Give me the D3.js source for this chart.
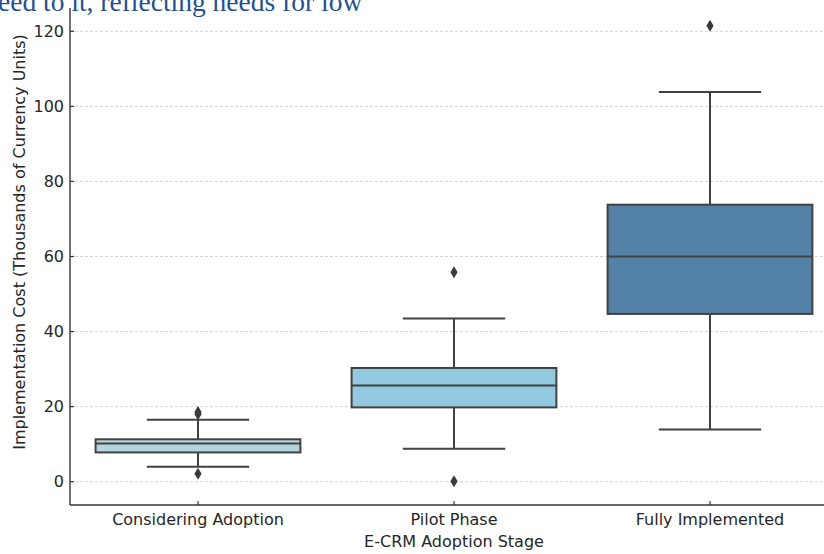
<!DOCTYPE html>
<html>
<head>
<meta charset="utf-8">
<script src="https://cdn.jsdelivr.net/npm/d3@7"></script>
<style>
  html, body { margin: 0; padding: 0; background: #fff; }
  svg { display: block; }
</style>
</head>
<body>
<svg id="chart" width="824" height="554"></svg>
<script>
// ---- data ----
const categories = ["Considering Adoption", "Pilot Phase", "Fully Implemented"];
const q1 =        [7.8, 19.8, 44.7];
const medians =   [10.2, 25.6, 60.0];
const q3 =        [11.3, 30.3, 73.8];
const whiskLow =  [4.0, 8.8, 13.9];
const whiskHigh = [16.5, 43.5, 103.8];
const outliers =  [[18.0, 18.6, 2.1], [55.8, 0.1], [121.5]];
const yTicks = [0, 20, 40, 60, 80, 100, 120];
const colors = ["#b4d4df", "#93c9de", "#5481a6"];

const svg = d3.select("#chart");
const W = 824, H = 554;
const left = 70, right = 838, bottomPx = 505, topPx = 8;

const y = d3.scaleLinear().domain([0, 120]).range([481.7, 31.3]);
const x = d3.scaleBand().domain(categories).range([left, right]).paddingInner(0).paddingOuter(0);
const bw = x.bandwidth() * 0.8;

const lineCol = "#414141";

// grid
svg.append("g").selectAll("line").data(yTicks).join("line")
  .attr("x1", left).attr("x2", W)
  .attr("y1", d => y(d)).attr("y2", d => y(d))
  .attr("stroke", "#c8c8c8").attr("stroke-width", 0.8)
  .attr("stroke-dasharray", "3,2");

// boxes
const g = svg.append("g");
categories.forEach((c, i) => {
  const cx = x(c) + x.bandwidth() / 2;
  const gi = g.append("g");
  // whiskers
  gi.append("line").attr("x1", cx).attr("x2", cx)
    .attr("y1", y(q3[i])).attr("y2", y(whiskHigh[i]))
    .attr("stroke", lineCol).attr("stroke-width", 2);
  gi.append("line").attr("x1", cx).attr("x2", cx)
    .attr("y1", y(q1[i])).attr("y2", y(whiskLow[i]))
    .attr("stroke", lineCol).attr("stroke-width", 2);
  // caps
  [whiskHigh[i], whiskLow[i]].forEach(v => {
    gi.append("line").attr("x1", cx - bw / 4).attr("x2", cx + bw / 4)
      .attr("y1", y(v)).attr("y2", y(v))
      .attr("stroke", lineCol).attr("stroke-width", 2);
  });
  // box
  gi.append("rect").attr("x", cx - bw / 2).attr("width", bw)
    .attr("y", y(q3[i])).attr("height", y(q1[i]) - y(q3[i]))
    .attr("fill", colors[i]).attr("stroke", lineCol).attr("stroke-width", 2);
  // median
  gi.append("line").attr("x1", cx - bw / 2).attr("x2", cx + bw / 2)
    .attr("y1", y(medians[i])).attr("y2", y(medians[i]))
    .attr("stroke", lineCol).attr("stroke-width", 2);
  // outliers (thin diamonds)
  gi.selectAll("path.out").data(outliers[i]).join("path")
    .attr("class", "out")
    .attr("d", d => {
      const py = y(d);
      return `M${cx},${py - 6} L${cx + 3.6},${py} L${cx},${py + 6} L${cx - 3.6},${py} Z`;
    })
    .attr("fill", "#3a3a3a");
});

// spines
svg.append("line").attr("x1", left).attr("x2", left).attr("y1", topPx).attr("y2", bottomPx)
  .attr("stroke", "#333").attr("stroke-width", 1.4);
svg.append("line").attr("x1", left).attr("x2", W).attr("y1", bottomPx).attr("y2", bottomPx)
  .attr("stroke", "#333").attr("stroke-width", 1.4);

// y ticks (inward) + labels
const font = "DejaVu Sans, sans-serif";
const yt = svg.append("g");
yt.selectAll("line").data(yTicks).join("line")
  .attr("x1", left).attr("x2", left + 4)
  .attr("y1", d => y(d)).attr("y2", d => y(d))
  .attr("stroke", "#333").attr("stroke-width", 1.2);
yt.selectAll("text").data(yTicks).join("text")
  .attr("x", left - 6).attr("y", d => y(d)).attr("dy", "0.35em")
  .attr("text-anchor", "end")
  .attr("font-family", font).attr("font-size", 16).attr("fill", "#262626")
  .text(d => d);

// x ticks (inward) + labels
const xt = svg.append("g");
xt.selectAll("line").data(categories).join("line")
  .attr("x1", d => x(d) + x.bandwidth() / 2).attr("x2", d => x(d) + x.bandwidth() / 2)
  .attr("y1", bottomPx).attr("y2", bottomPx - 4)
  .attr("stroke", "#333").attr("stroke-width", 1.2);
xt.selectAll("text").data(categories).join("text")
  .attr("x", d => x(d) + x.bandwidth() / 2).attr("y", 525)
  .attr("text-anchor", "middle")
  .attr("font-family", font).attr("font-size", 16).attr("fill", "#262626")
  .text(d => d);

// axis titles
svg.append("text").attr("x", 454).attr("y", 547).attr("text-anchor", "middle")
  .attr("font-family", font).attr("font-size", 16).attr("fill", "#262626")
  .text("E-CRM Adoption Stage");
svg.append("text").attr("transform", "translate(25,242) rotate(-90)")
  .attr("text-anchor", "middle")
  .attr("font-family", font).attr("font-size", 16).attr("fill", "#262626")
  .text("Implementation Cost (Thousands of Currency Units)");

// cropped text of the surrounding page at the very top
svg.append("text").attr("x", -2).attr("y", 11)
  .attr("font-family", "Liberation Serif, Times New Roman, serif")
  .attr("font-size", 27.5).attr("fill", "#24508f")
  .text("eed to it, reflecting needs for low");
</script>
</body>
</html>
